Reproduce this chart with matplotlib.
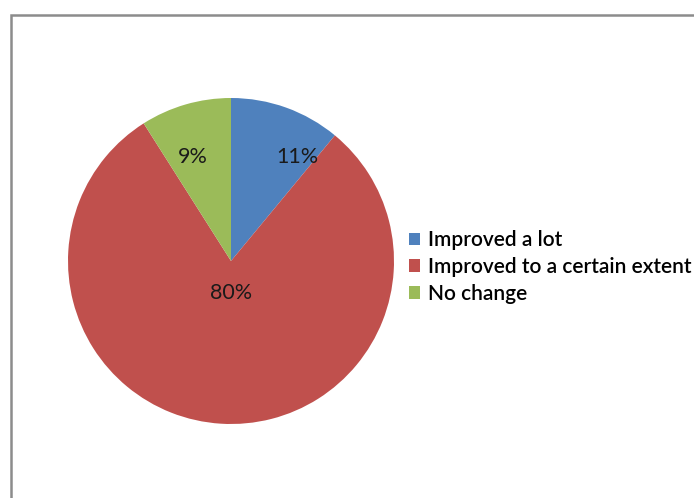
import matplotlib
matplotlib.use("Agg")
import matplotlib.pyplot as plt
from matplotlib.patches import Rectangle, Patch

categories = ["Improved a lot", "Improved to a certain extent", "No change"]
shares = [11, 80, 9]
colors = ["#4F81BD", "#C0504D", "#9BBB59"]

# label anchor points (data units of the unit-radius pie)
label_xy = [(0.405, 0.638), (0.0, -0.196), (-0.233, 0.638)]

W, H = 694, 498
fig = plt.figure(figsize=(W / 100, H / 100), dpi=100)
fig.patch.set_facecolor("white")

# chart frame
fig.add_artist(Rectangle((11 / W, -0.05), 1.2, (H - 15) / H + 0.05,
                         transform=fig.transFigure, fill=False,
                         edgecolor="#8c8c8c", linewidth=1.8))

cx, cy, r = 231, 261, 163
ax = fig.add_axes([(cx - r) / W, (H - cy - r) / H, 2 * r / W, 2 * r / H])
wedges, _ = ax.pie(shares, colors=colors, startangle=90, counterclock=False,
                   radius=1.0, wedgeprops=dict(linewidth=0))
ax.set_xlim(-1, 1)
ax.set_ylim(-1, 1)
ax.set_aspect("equal")

for v, (x, y) in zip(shares, label_xy):
    ax.text(x, y, f"{v}%", ha="center", va="center", fontsize=15.5,
            family="Lato", color="#1a1a1a")

handles = [Patch(facecolor=c, edgecolor="none") for c in colors]
fig.legend(handles, categories, loc="center left",
           bbox_to_anchor=(409 / W, 1 - 267 / H), frameon=False,
           prop=dict(family="Lato", size=15, weight="semibold"),
           handlelength=0.55, handleheight=0.55, handletextpad=0.35,
           labelspacing=0.32, borderaxespad=0, borderpad=0)

fig.savefig("out.png", dpi=100, facecolor="white")
